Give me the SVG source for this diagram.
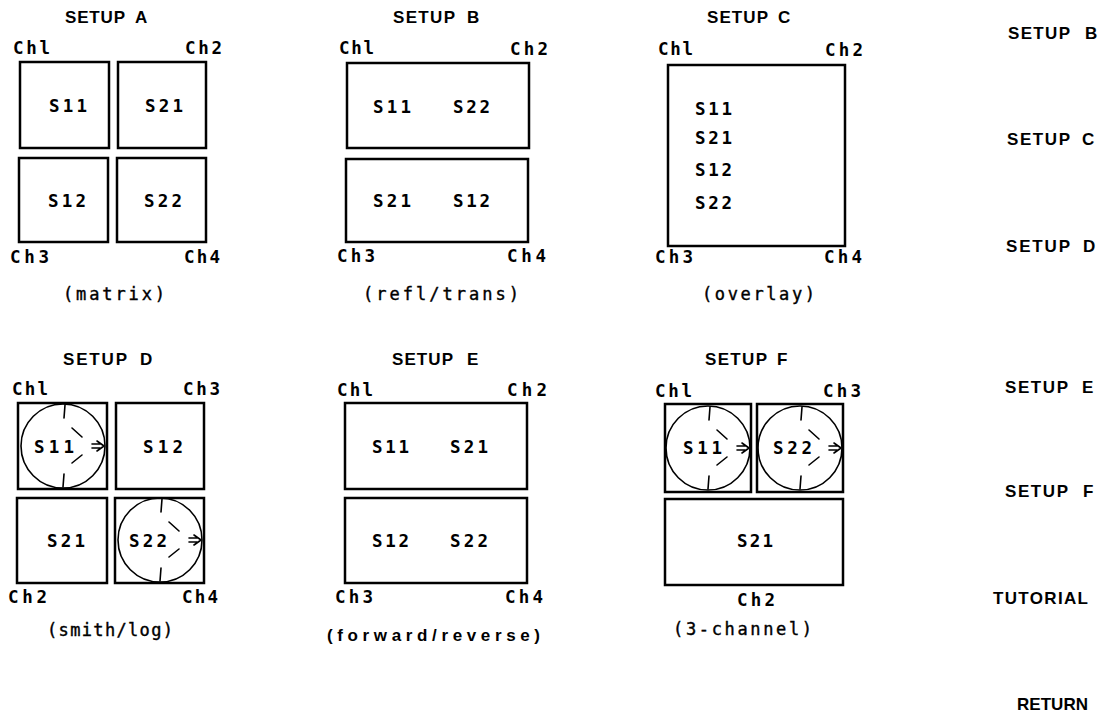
<svg xmlns="http://www.w3.org/2000/svg" xmlns:xlink="http://www.w3.org/1999/xlink" width="1105" height="715" viewBox="0 0 1105 715">
<style>
.box{fill:none;stroke:#000;stroke-width:2.5}
.sm{fill:none;stroke:#000;stroke-width:1.6;stroke-linecap:round;stroke-linejoin:round}
.t{font-family:"Liberation Sans",Arial,sans-serif;font-weight:bold;font-size:17px;fill:#000}
.m{font-family:"DejaVu Sans Mono","Liberation Mono",monospace;font-weight:bold;font-size:17.5px;fill:#000}
.sub{font-family:"DejaVu Sans Mono","Liberation Mono",monospace;font-size:17px;fill:#000;stroke:#000;stroke-width:0.4}
.fr{font-family:"Liberation Sans",Arial,sans-serif;font-weight:bold;font-size:17px;fill:#000}
</style>
<defs>
<g id="smith">
<circle class="sm" cx="0" cy="0" r="42"/>
<path class="sm" d="M2,-41 L1,-28 M1,28 L0,41 M9,-18 L19,-9 M9,17 L19,9 M29,-2 H37 M29,2 H37 M34,-5 L41,0 L34,5"/>
</g>
</defs>
<rect width="1105" height="715" fill="#fff"/>

<g id="setupA">
<text class="t" x="65" y="23" textLength="60">SETUP</text><text class="t" x="135" y="23">A</text>
<text class="m" x="13" y="54" textLength="37">Chl</text>
<text class="m" x="185" y="54" textLength="37">Ch2</text>
<rect class="box" x="20" y="62" width="89" height="86"/>
<rect class="box" x="118" y="62" width="88" height="86"/>
<rect class="box" x="19" y="158" width="89" height="84"/>
<rect class="box" x="117" y="158" width="89" height="84"/>
<text class="m" x="49" y="112" textLength="38">S11</text>
<text class="m" x="145" y="112" textLength="38">S21</text>
<text class="m" x="48" y="207" textLength="38">S12</text>
<text class="m" x="144" y="207" textLength="38">S22</text>
<text class="m" x="10" y="263" textLength="39">Ch3</text>
<text class="m" x="184" y="263" textLength="36">Ch4</text>
<text class="sub" x="63" y="300" textLength="102">(matrix)</text>
</g>

<g id="setupB">
<text class="t" x="393" y="23" textLength="62">SETUP</text><text class="t" x="467" y="23">B</text>
<text class="m" x="339" y="54" textLength="35">Chl</text>
<text class="m" x="510" y="55" textLength="38">Ch2</text>
<rect class="box" x="347" y="63" width="182" height="85"/>
<rect class="box" x="346" y="159" width="182" height="83"/>
<text class="m" x="373" y="113" textLength="38">S11</text>
<text class="m" x="453" y="113" textLength="37">S22</text>
<text class="m" x="373" y="207" textLength="38">S21</text>
<text class="m" x="453" y="207" textLength="37">S12</text>
<text class="m" x="337" y="262" textLength="38">Ch3</text>
<text class="m" x="507" y="262" textLength="39">Ch4</text>
<text class="sub" x="363" y="300" textLength="156">(refl/trans)</text>
</g>

<g id="setupC">
<text class="t" x="707" y="23" textLength="61">SETUP</text><text class="t" x="778" y="23">C</text>
<text class="m" x="658" y="55" textLength="35">Chl</text>
<text class="m" x="825" y="56" textLength="38">Ch2</text>
<rect class="box" x="668" y="65" width="177" height="181"/>
<text class="m" x="695" y="115" textLength="37">S11</text>
<text class="m" x="695" y="144" textLength="37">S21</text>
<text class="m" x="695" y="176" textLength="37">S12</text>
<text class="m" x="695" y="209" textLength="37">S22</text>
<text class="m" x="655" y="263" textLength="38">Ch3</text>
<text class="m" x="824" y="263" textLength="38">Ch4</text>
<text class="sub" x="702" y="300" textLength="113">(overlay)</text>
</g>

<g id="setupD">
<text class="t" x="63" y="365" textLength="64">SETUP</text><text class="t" x="140" y="365">D</text>
<text class="m" x="12" y="395" textLength="36">Chl</text>
<text class="m" x="183" y="395" textLength="37">Ch3</text>
<rect class="box" x="18" y="403" width="89" height="86"/>
<rect class="box" x="116" y="403" width="88" height="86"/>
<rect class="box" x="17" y="498" width="90" height="85"/>
<rect class="box" x="115" y="498" width="89" height="85"/>
<use xlink:href="#smith" x="63" y="446"/>
<use xlink:href="#smith" x="160" y="540"/>
<text class="m" x="34" y="453" textLength="40">S11</text>
<text class="m" x="143" y="453" textLength="40">S12</text>
<text class="m" x="47" y="547" textLength="38">S21</text>
<text class="m" x="129" y="547" textLength="38">S22</text>
<text class="m" x="8" y="603" textLength="39">Ch2</text>
<text class="m" x="182" y="603" textLength="36">Ch4</text>
<text class="sub" x="47" y="636" textLength="126">(smith/log)</text>
</g>

<g id="setupE">
<text class="t" x="392" y="365" textLength="61">SETUP</text><text class="t" x="467" y="365">E</text>
<text class="m" x="337" y="396" textLength="36">Chl</text>
<text class="m" x="507" y="396" textLength="40">Ch2</text>
<rect class="box" x="345" y="403" width="182" height="86"/>
<rect class="box" x="345" y="498" width="182" height="85"/>
<text class="m" x="372" y="453" textLength="37">S11</text>
<text class="m" x="450" y="453" textLength="38">S21</text>
<text class="m" x="372" y="547" textLength="37">S12</text>
<text class="m" x="450" y="547" textLength="38">S22</text>
<text class="m" x="335" y="603" textLength="38">Ch3</text>
<text class="m" x="505" y="603" textLength="38">Ch4</text>
<text class="fr" x="327" y="641" textLength="213">(forward/reverse)</text>
</g>

<g id="setupF">
<text class="t" x="705" y="365" textLength="62">SETUP</text><text class="t" x="777" y="365">F</text>
<text class="m" x="655" y="397" textLength="37">Chl</text>
<text class="m" x="823" y="397" textLength="38">Ch3</text>
<rect class="box" x="665" y="404" width="86" height="88"/>
<rect class="box" x="757" y="404" width="86" height="88"/>
<rect class="box" x="665" y="499" width="178" height="86"/>
<use xlink:href="#smith" x="708" y="448"/>
<use xlink:href="#smith" x="800" y="448"/>
<text class="m" x="683" y="454" textLength="39">S11</text>
<text class="m" x="773" y="454" textLength="39">S22</text>
<text class="m" x="737" y="547" textLength="36">S21</text>
<text class="m" x="737" y="606" textLength="38">Ch2</text>
<text class="sub" x="673" y="635" textLength="139">(3-channel)</text>
</g>

<g id="menu">
<text class="t" x="1008" y="39" textLength="62">SETUP</text><text class="t" x="1085" y="39">B</text>
<text class="t" x="1007" y="145" textLength="63">SETUP</text><text class="t" x="1082" y="145">C</text>
<text class="t" x="1006" y="252" textLength="64">SETUP</text><text class="t" x="1083" y="252">D</text>
<text class="t" x="1005" y="393" textLength="63">SETUP</text><text class="t" x="1082" y="393">E</text>
<text class="t" x="1005" y="497" textLength="63">SETUP</text><text class="t" x="1083" y="497">F</text>
<text class="t" x="993" y="604" textLength="95">TUTORIAL</text>
<text class="t" x="1017" y="710" textLength="71">RETURN</text>
</g>
<g id="connectors"/>
</svg>
